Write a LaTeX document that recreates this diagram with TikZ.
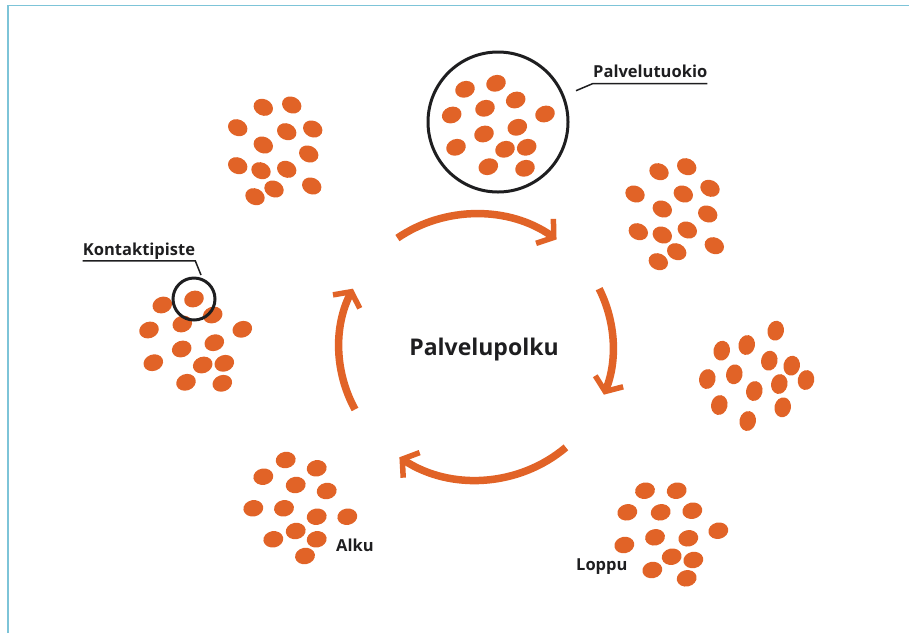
\documentclass[tikz,border=0pt]{standalone}
\usepackage{fontspec}
\setmainfont{Open Sans}
\usetikzlibrary{arrows.meta}
\definecolor{dotor}{RGB}{225,99,39}
\definecolor{framebl}{RGB}{125,196,216}
\definecolor{inkc}{RGB}{30,30,32}
\newcommand\orgdot[3]{\fill[dotshape, rotate around={#3:(#1,#2)}] (#1,#2) ellipse [x radius=10, y radius=8.2];}
\begin{document}
\begin{tikzpicture}[x=1pt,y=-1pt,
  dotshape/.style={fill=dotor},
  flow/.style={draw=dotor, line width=7.5pt, -{Straight Barb[length=11pt,width=30pt,line width=5.5pt]}},
  lbl/.style={font=\bfseries\fontsize{16.5}{19}\selectfont, text=inkc, text depth=0pt, inner xsep=0pt, inner ysep=5.6pt, anchor=base west},
  tag/.style={font=\bfseries\fontsize{16.5}{19}\selectfont, text=inkc, inner sep=0pt, anchor=base west},
  leader/.style={draw=inkc, line width=1.5pt},
  ring/.style={draw=inkc, line width=3pt, circle, inner sep=0pt}]
\useasboundingbox (0,0) rectangle (909,633);
% frame
\draw[framebl, line width=1.6pt] (8,633) -- (8,5.5) -- (909,5.5);

% group top left
\foreach \x/\y in {263.3/107.3, 291.7/105, 237.7/127.7, 286.7/131.7, 312.7/129, 263.3/145, 308.7/154, 237.7/165.7, 261/170.7, 286.7/169.3, 274/189, 311.7/186, 255/196.7}
  {\orgdot{\x}{\y}{-25}}
% group in circle
\foreach \x/\y in {465/89.3, 496/83.3, 515.7/100, 451.7/115, 485/108.3, 545/114, 484/134, 517.3/127.3, 456/147.3, 505/149.3, 526.7/147.3, 488.3/166.7, 525/168.3}
  {\orgdot{\x}{\y}{20}}
% group upper right
\foreach \x/\y in {659/171.7, 686.7/166.7, 635/194, 683.3/194, 710/188.3, 662.3/209, 707.7/214, 638.3/231.7, 662.3/235, 687.3/230, 714.3/245.7, 676.7/251.7, 658.3/261.7}
  {\orgdot{\x}{\y}{-25}}
% group right
\foreach \x/\y in {775.7/330.7, 721.7/350.7, 746.7/345, 769.3/360.7, 791.7/365.7, 707.3/379, 734.3/374.3, 779.3/384, 806/380, 754.3/391, 719.3/405, 782.7/407.3, 747.7/421}
  {\orgdot{\x}{\y}{78}}
% group left (Kontaktipiste)
\foreach \x/\y in {194/299, 162.3/305, 212.7/315, 149/330, 182.3/324, 242.3/329.3, 181.7/349, 214.3/342.7, 153.3/362.7, 202.7/365, 224.3/363.3, 186/382.3, 222.3/383.3}
  {\orgdot{\x}{\y}{20}}
% group bottom left (Alku)
\foreach \x/\y in {285.7/460, 263.3/476.7, 316.7/468.3, 295.7/485, 326.7/491, 253.3/508.3, 284/508.3, 316.7/516.7, 347.3/516.7, 295.7/531, 273.3/539.3, 316.7/539.3, 305/556}
  {\orgdot{\x}{\y}{10}}
% group bottom right (Loppu)
\foreach \x/\y in {645/490.7, 676.7/490.7, 627.3/512.3, 660.7/512.3, 692.3/510.7, 718.3/530.7, 655/537.3, 688.3/538.3, 624.3/545, 671.7/556.7, 693.3/560, 652.3/570, 686.7/578.3}
  {\orgdot{\x}{\y}{12}}

% rings
\node[ring, minimum size=140pt] (pc) at (498,122) {};
\node[ring, minimum size=42pt] (kc) at (194,299) {};

% labels with leaders
\node[lbl] (pt) at (593,77.7) {Palvelutuokio};
\coordinate (ptend) at (576,90.7);
\draw[leader] (pt.south east) -- (pt.south west) -- (ptend);

\node[lbl] (kp) at (82.7,255) {Kontaktipiste};
\coordinate (kpend) at (201,275);
\draw[leader] (kp.south west) -- (kp.south east) -- (kpend);

\node[tag] (alku) at (336,551.7) {Alku};
\node[tag] (loppu) at (576,570) {Loppu};

% centre
\coordinate (c) at (476,347);
\node[font=\bfseries\fontsize{23}{27}\selectfont, text=inkc, anchor=base] (pp) at (484,355.3) {Palvelupolku};

% cycle arrows
\draw[flow] ([shift={(-125:137 and 133)}]c) arc[start angle=-125, end angle=-54, x radius=137, y radius=133];
\draw[flow] ([shift={(-26:137 and 133)}]c) arc[start angle=-26, end angle=21, x radius=137, y radius=133];
\draw[flow] ([shift={(49:137 and 133)}]c) arc[start angle=49, end angle=124, x radius=137, y radius=133];
\draw[flow] ([shift={(-208:137 and 133)}]c) arc[start angle=-208, end angle=-154, x radius=137, y radius=133];
\end{tikzpicture}
\end{document}
